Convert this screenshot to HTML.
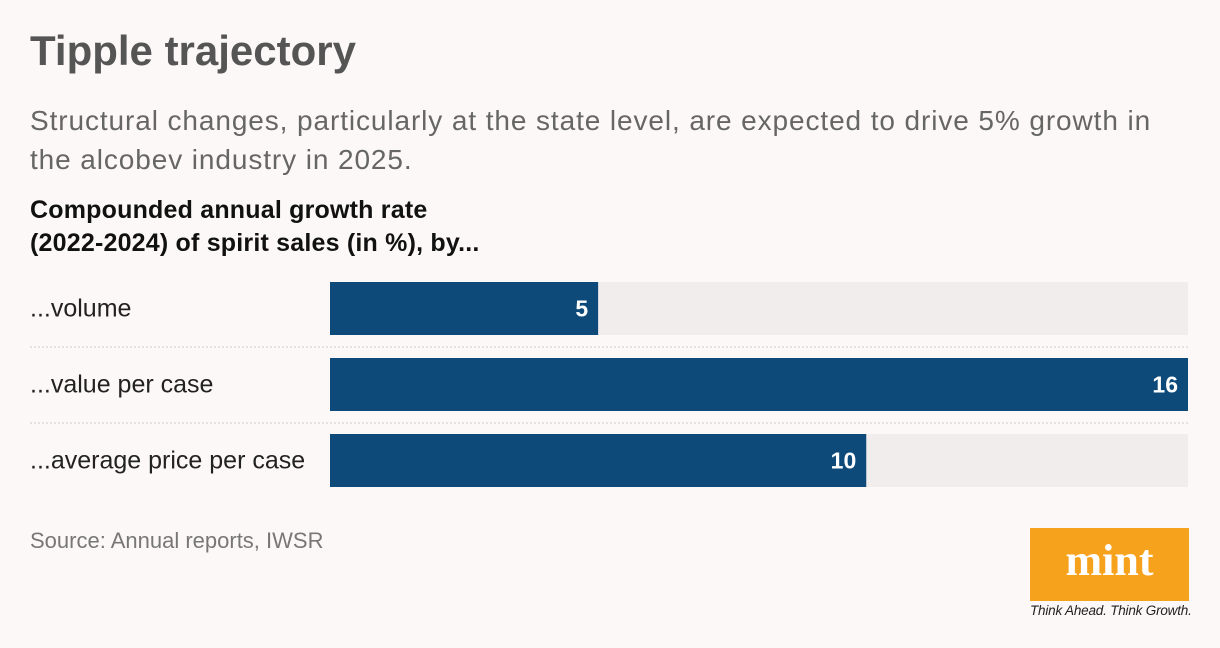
<!DOCTYPE html>
<html><head><meta charset="utf-8"><style>
body{margin:0;width:1220px;height:648px;background:#fdf8f8;font-family:"Liberation Sans",sans-serif;position:relative;overflow:hidden}
.t{position:absolute;left:30px;white-space:nowrap}
</style></head><body>
<div class="t" style="top:27px;font-size:42px;font-weight:bold;color:#555;letter-spacing:0px">Tipple trajectory</div>
<div class="t" style="top:101px;font-size:28px;line-height:39px;color:#666;letter-spacing:0.9px">Structural changes, particularly at the state level, are expected to drive 5% growth in<br>the alcobev industry in 2025.</div>
<div class="t" style="top:194px;font-size:25px;line-height:33px;font-weight:bold;color:#111;letter-spacing:0.2px">Compounded annual growth rate<br>(2022-2024) of spirit sales (in %), by...</div>
<svg id="c" width="1220" height="648" style="position:absolute;left:0;top:0"></svg>
<div class="t" style="top:528px;font-size:22px;color:#777">Source: Annual reports, IWSR</div>
<div style="position:absolute;left:1030px;top:528px;width:159px;height:73px;background:#f7a21d;color:#fff;font-family:'Liberation Serif',serif;font-weight:bold;font-size:44px;text-align:center;line-height:66px">mint</div>
<div class="t" style="left:1030px;top:603px;font-size:13.5px;font-style:italic;color:#222;letter-spacing:-0.2px">Think Ahead. Think Growth.</div>
<script>
const categories=["...volume","...value per case","...average price per case"];
const values=[5,16,10];
const maxV=16;
const svg=document.getElementById('c');
const NS="http://www.w3.org/2000/svg";
const x0=330,w=858,y0=282,step=76,bh=53;
function xs(v){return x0+w*v/maxV;}
function mk(t,a){const e=document.createElementNS(NS,t);for(const k in a)e.setAttribute(k,a[k]);svg.appendChild(e);return e;}
categories.forEach((c,i)=>{
 const y=y0+i*step;
 const bg=mk('rect',{x:x0,y:y,width:w,height:bh,fill:'#f1eded'});
 
 
 const b=mk('rect',{x:x0,y:y,width:xs(values[i])-x0,height:bh,fill:'#0d4a7a'});
 
 
 const l=mk('text',{x:30,y:y+bh/2+8,'font-size':25,fill:'#222','font-family':'Liberation Sans, sans-serif'});
 l.textContent=c;
 
 
 const v=mk('text',{x:xs(values[i])-10,y:y+bh/2+8,'font-size':23,'font-weight':'bold',fill:'#fff','text-anchor':'end','font-family':'Liberation Sans, sans-serif'});
 v.textContent=values[i];
 
 
 if(i<categories.length-1){
  const s=mk('line',{x1:30,x2:1188,y1:y+bh+12,y2:y+bh+12,stroke:'#ccc','stroke-width':1,'stroke-dasharray':'2,2'});
  
  
 }
});
</script>
</body></html>
